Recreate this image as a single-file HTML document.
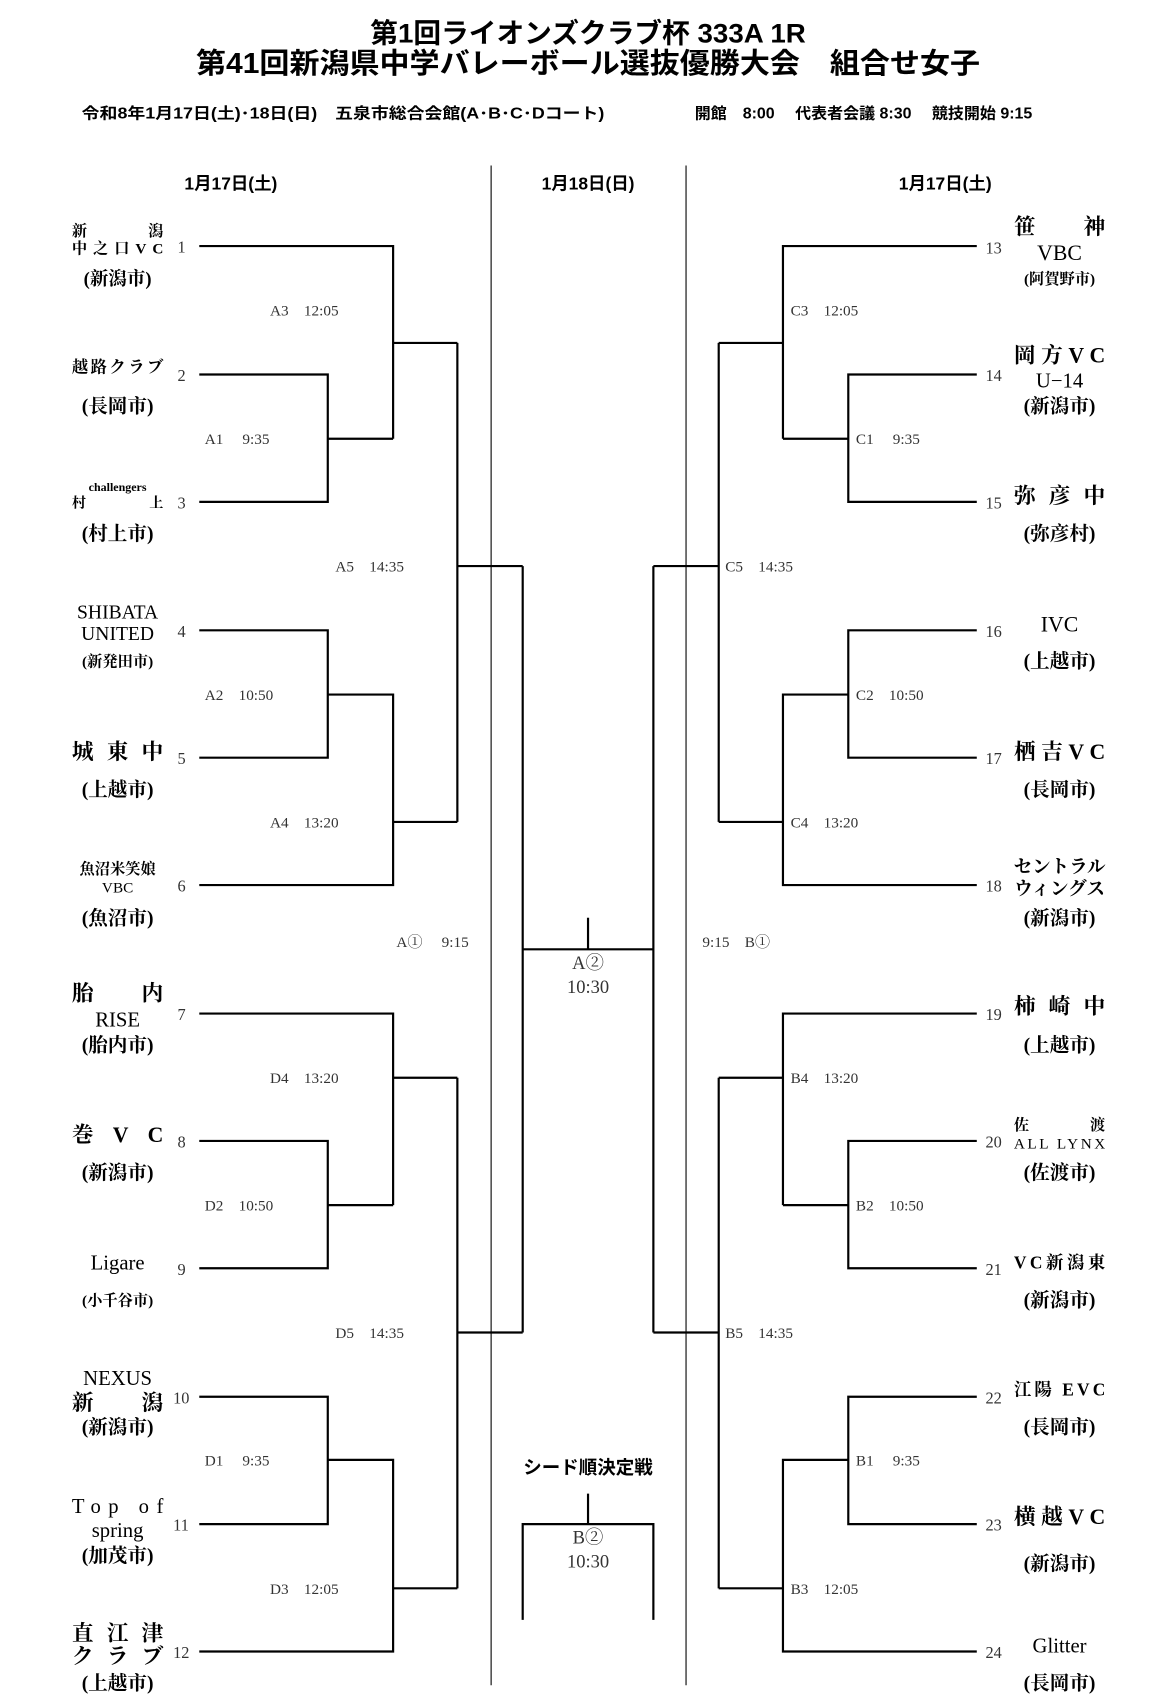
<!DOCTYPE html>
<html><head><meta charset="utf-8"><style>
html,body{margin:0;padding:0;background:#fff;}
svg{display:block;}
.t{font-family:"Liberation Sans","Noto Sans CJK JP",sans-serif;font-weight:bold;fill:#000;}
.n{font-family:"Liberation Serif","Noto Serif CJK SC","Noto Sans CJK JP",serif;font-weight:bold;fill:#000;}
.m{font-family:"Liberation Serif","Noto Serif CJK SC",serif;fill:#333;font-size:14px;}
.num{font-family:"Liberation Serif",serif;fill:#333;font-size:15px;}
</style></head><body>
<svg width="1163" height="1707" viewBox="0 0 1068 1568" preserveAspectRatio="none" xmlns="http://www.w3.org/2000/svg">
<rect width="1080" height="1585" fill="#fff"/>
<text class="t" x="340" y="39" font-size="25" textLength="400" lengthAdjust="spacingAndGlyphs">第1回ライオンズクラブ杯 333A 1R</text>
<text class="t" x="180" y="67" font-size="26" textLength="720" lengthAdjust="spacingAndGlyphs">第41回新潟県中学バレーボール選抜優勝大会　組合せ女子</text>
<text class="t" x="75" y="109" font-size="14" textLength="480" lengthAdjust="spacingAndGlyphs">令和8年1月17日(土)･18日(日)　五泉市総合会館(A･B･C･Dコート)</text>
<text class="t" x="638" y="109" font-size="14" textLength="310" lengthAdjust="spacingAndGlyphs">開館　8:00　 代表者会議 8:30　 競技開始 9:15</text>
<text class="t" x="212" y="174" font-size="16" text-anchor="middle">1月17日(土)</text>
<text class="t" x="540" y="174" font-size="16" text-anchor="middle">1月18日(日)</text>
<text class="t" x="868" y="174" font-size="16" text-anchor="middle">1月17日(土)</text>
<g stroke="#000" stroke-width="1" fill="none">
<line x1="451" y1="152" x2="451" y2="1548"/><line x1="630" y1="152" x2="630" y2="1548"/>
</g>
<g stroke="#000" stroke-width="2" fill="none">
<polyline points="183,226 361,226 361,403"/>
<polyline points="183,344 301,344 301,461 183,461"/>
<polyline points="301,403 361,403"/>
<polyline points="361,315 420,315"/>
<polyline points="183,579 301,579 301,696 183,696"/>
<polyline points="301,638 361,638 361,813 183,813"/>
<polyline points="361,755 420,755"/>
<polyline points="420,315 420,755"/><polyline points="420,520 480,520"/>
<polyline points="183,931 361,931 361,1107"/>
<polyline points="183,1048 301,1048 301,1165 183,1165"/>
<polyline points="301,1107 361,1107"/><polyline points="361,990 420,990"/>
<polyline points="183,1283 301,1283 301,1400 183,1400"/>
<polyline points="301,1341 361,1341 361,1517 183,1517"/>
<polyline points="361,1459 420,1459"/>
<polyline points="420,990 420,1459"/><polyline points="420,1224 480,1224"/>
<polyline points="480,520 480,1224"/>
<polyline points="897,226 719,226 719,403"/>
<polyline points="897,344 779,344 779,461 897,461"/>
<polyline points="779,403 719,403"/><polyline points="719,315 660,315"/>
<polyline points="897,579 779,579 779,696 897,696"/>
<polyline points="779,638 719,638 719,813 897,813"/>
<polyline points="719,755 660,755"/>
<polyline points="660,315 660,755"/><polyline points="660,520 600,520"/>
<polyline points="897,931 719,931 719,1107"/>
<polyline points="897,1048 779,1048 779,1165 897,1165"/>
<polyline points="779,1107 719,1107"/><polyline points="719,990 660,990"/>
<polyline points="897,1283 779,1283 779,1400 897,1400"/>
<polyline points="779,1341 719,1341 719,1517 897,1517"/>
<polyline points="719,1459 660,1459"/>
<polyline points="660,990 660,1459"/><polyline points="660,1224 600,1224"/>
<polyline points="600,520 600,1224"/>
<line x1="480" y1="872" x2="600" y2="872"/><line x1="540" y1="843" x2="540" y2="872"/>
<line x1="540" y1="1372" x2="540" y2="1400"/>
<polyline points="480,1488 480,1400 600,1400 600,1488"/>
</g>
<g class="m">
<text x="248" y="290">A3　12:05</text><text x="188" y="408">A1　 9:35</text>
<text x="308" y="525">A5　14:35</text><text x="188" y="643">A2　10:50</text>
<text x="248" y="760">A4　13:20</text><text x="364" y="870">A①　 9:15</text>
<text x="248" y="995">D4　13:20</text><text x="188" y="1112">D2　10:50</text>
<text x="308" y="1229">D5　14:35</text><text x="188" y="1346">D1　 9:35</text>
<text x="248" y="1464">D3　12:05</text>
<text x="726" y="290">C3　12:05</text><text x="786" y="408">C1　 9:35</text>
<text x="666" y="525">C5　14:35</text><text x="786" y="643">C2　10:50</text>
<text x="726" y="760">C4　13:20</text><text x="645" y="870">9:15　B①</text>
<text x="726" y="995">B4　13:20</text><text x="786" y="1112">B2　10:50</text>
<text x="666" y="1229">B5　14:35</text><text x="786" y="1346">B1　 9:35</text>
<text x="726" y="1464">B3　12:05</text>
</g>
<g class="m" style="font-size:17px" text-anchor="middle">
<text x="540" y="890">A②</text><text x="540" y="912">10:30</text>
<text x="540" y="1418">B②</text><text x="540" y="1440">10:30</text>
</g>
<text class="t" x="540" y="1354" font-size="17" text-anchor="middle">シード順決定戦</text>
<g class="num">
<text x="163" y="232">1</text><text x="163" y="350">2</text><text x="163" y="467">3</text>
<text x="163" y="585">4</text><text x="163" y="702">5</text><text x="163" y="819">6</text>
<text x="163" y="937">7</text><text x="163" y="1054">8</text><text x="163" y="1171">9</text>
<text x="159" y="1289">10</text><text x="159" y="1406">11</text><text x="159" y="1523">12</text>
<text x="905" y="233">13</text><text x="905" y="350">14</text><text x="905" y="467">15</text>
<text x="905" y="585">16</text><text x="905" y="702">17</text><text x="905" y="819">18</text>
<text x="905" y="937">19</text><text x="905" y="1054">20</text><text x="905" y="1171">21</text>
<text x="905" y="1289">22</text><text x="905" y="1406">23</text><text x="905" y="1523">24</text>
</g>
<g class="n">
<text x="66" y="217" font-size="14" textLength="84" lengthAdjust="spacing">新潟</text>
<text x="66" y="233" font-size="14" textLength="84" lengthAdjust="spacing">中之口VC</text>
<text x="108" y="262" font-size="17" text-anchor="middle">(新潟市)</text>
<text x="66" y="342" font-size="15" textLength="84">越路クラブ</text>
<text x="108" y="379" font-size="18" text-anchor="middle">(長岡市)</text>
<text x="108" y="451" font-size="11" text-anchor="middle">challengers</text>
<text x="66" y="466" font-size="13" textLength="84" lengthAdjust="spacing">村上</text>
<text x="108" y="496" font-size="18" text-anchor="middle">(村上市)</text>
<text x="108" y="568" font-size="18" text-anchor="middle" font-weight="normal">SHIBATA</text>
<text x="108" y="588" font-size="18" text-anchor="middle" font-weight="normal">UNITED</text>
<text x="108" y="612" font-size="14" text-anchor="middle">(新発田市)</text>
<text x="66" y="697" font-size="20" textLength="84" lengthAdjust="spacing">城東中</text>
<text x="108" y="731" font-size="18" text-anchor="middle">(上越市)</text>
<text x="108" y="803" font-size="14" text-anchor="middle">魚沼米笑娘</text>
<text x="108" y="820" font-size="14" text-anchor="middle" font-weight="normal">VBC</text>
<text x="108" y="849" font-size="18" text-anchor="middle">(魚沼市)</text>
<text x="66" y="919" font-size="20" textLength="84" lengthAdjust="spacing">胎内</text>
<text x="108" y="943" font-size="19" text-anchor="middle" font-weight="normal">RISE</text>
<text x="108" y="966" font-size="18" text-anchor="middle">(胎内市)</text>
<text x="66" y="1049" font-size="20" textLength="84" lengthAdjust="spacing">巻VC</text>
<text x="108" y="1083" font-size="18" text-anchor="middle">(新潟市)</text>
<text x="108" y="1166" font-size="19" text-anchor="middle" font-weight="normal">Ligare</text>
<text x="108" y="1199" font-size="14" text-anchor="middle">(小千谷市)</text>
<text x="108" y="1272" font-size="19" text-anchor="middle" font-weight="normal">NEXUS</text>
<text x="66" y="1295" font-size="20" textLength="84" lengthAdjust="spacing">新潟</text>
<text x="108" y="1317" font-size="18" text-anchor="middle">(新潟市)</text>
<text x="66" y="1390" font-size="19" font-weight="normal" textLength="84" lengthAdjust="spacing">Top of</text>
<text x="108" y="1412" font-size="19" text-anchor="middle" font-weight="normal">spring</text>
<text x="108" y="1435" font-size="18" text-anchor="middle">(加茂市)</text>
<text x="66" y="1507" font-size="20" textLength="84" lengthAdjust="spacing">直江津</text>
<text x="66" y="1528" font-size="20" textLength="84" lengthAdjust="spacing">クラブ</text>
<text x="108" y="1552" font-size="18" text-anchor="middle">(上越市)</text>
</g>
<g class="n">
<text x="931" y="215" font-size="20" textLength="84" lengthAdjust="spacing">笹神</text>
<text x="973" y="239" font-size="20" text-anchor="middle" font-weight="normal">VBC</text>
<text x="973" y="261" font-size="14" text-anchor="middle">(阿賀野市)</text>
<text x="931" y="333" font-size="20" textLength="84" lengthAdjust="spacing">岡方VC</text>
<text x="973" y="356" font-size="19" text-anchor="middle" font-weight="normal">U−14</text>
<text x="973" y="379" font-size="18" text-anchor="middle">(新潟市)</text>
<text x="931" y="462" font-size="20" textLength="84" lengthAdjust="spacing">弥彦中</text>
<text x="973" y="496" font-size="18" text-anchor="middle">(弥彦村)</text>
<text x="973" y="580" font-size="20" text-anchor="middle" font-weight="normal">IVC</text>
<text x="973" y="613" font-size="18" text-anchor="middle">(上越市)</text>
<text x="931" y="697" font-size="20" textLength="84" lengthAdjust="spacing">栖吉VC</text>
<text x="973" y="731" font-size="18" text-anchor="middle">(長岡市)</text>
<text x="973" y="802" font-size="17" text-anchor="middle">セントラル</text>
<text x="973" y="822" font-size="17" text-anchor="middle">ウィングス</text>
<text x="973" y="849" font-size="18" text-anchor="middle">(新潟市)</text>
<text x="931" y="931" font-size="20" textLength="84" lengthAdjust="spacing">柿崎中</text>
<text x="973" y="966" font-size="18" text-anchor="middle">(上越市)</text>
<text x="931" y="1038" font-size="14" textLength="84" lengthAdjust="spacing">佐渡</text>
<text x="931" y="1055" font-size="14" font-weight="normal" textLength="84" lengthAdjust="spacing">ALL LYNX</text>
<text x="973" y="1083" font-size="18" text-anchor="middle">(佐渡市)</text>
<text x="931" y="1165" font-size="16" textLength="84">VC新潟東</text>
<text x="973" y="1200" font-size="18" text-anchor="middle">(新潟市)</text>
<text x="931" y="1282" font-size="16" textLength="84" lengthAdjust="spacing">江陽 EVC</text>
<text x="973" y="1317" font-size="18" text-anchor="middle">(長岡市)</text>
<text x="931" y="1400" font-size="20" textLength="84" lengthAdjust="spacing">横越VC</text>
<text x="973" y="1442" font-size="18" text-anchor="middle">(新潟市)</text>
<text x="973" y="1518" font-size="19" text-anchor="middle" font-weight="normal">Glitter</text>
<text x="973" y="1552" font-size="18" text-anchor="middle">(長岡市)</text>
</g>
</svg>
</body></html>
